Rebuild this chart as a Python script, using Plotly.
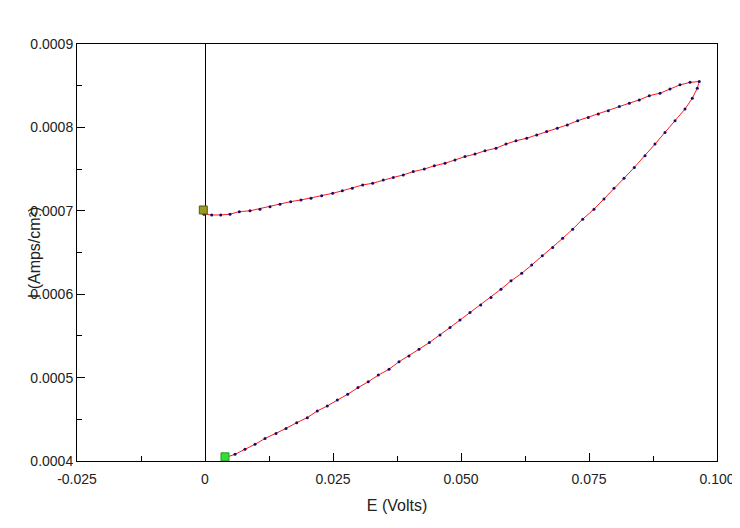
import plotly.graph_objects as go

# forward sweep (lower branch), E in volts, I in A/cm2
e_fwd = [0.00391, 0.00586, 0.00781, 0.00977, 0.01172, 0.01387, 0.01582, 0.01791, 0.01998, 0.02193,
         0.02389, 0.02584, 0.02787, 0.02988, 0.03189, 0.03385, 0.03594, 0.03789, 0.03984, 0.04180,
         0.04381, 0.04590, 0.04785, 0.04980, 0.05176, 0.05385, 0.05586, 0.05781, 0.05977, 0.06186,
         0.06381, 0.06588, 0.06791, 0.06986, 0.07182, 0.07377, 0.07598, 0.07793, 0.07988, 0.08184,
         0.08385, 0.08594, 0.08789, 0.08984, 0.09180, 0.09375, 0.09518, 0.09615, 0.09654]
i_fwd = [0.000404, 0.000408, 0.000414, 0.000420, 0.000427, 0.000433, 0.000439, 0.000446, 0.000452, 0.000460,
         0.000466, 0.000473, 0.000480, 0.000488, 0.000495, 0.000503, 0.000510, 0.000519, 0.000526, 0.000534,
         0.000542, 0.000551, 0.000560, 0.000569, 0.000578, 0.000587, 0.000596, 0.000606, 0.000616, 0.000625,
         0.000635, 0.000646, 0.000656, 0.000667, 0.000678, 0.000690, 0.000702, 0.000714, 0.000727, 0.000739,
         0.000752, 0.000766, 0.000780, 0.000794, 0.000808, 0.000822, 0.000835, 0.000847, 0.000855]

# reverse sweep (upper branch)
e_rev = [0.09473, 0.09277, 0.09082, 0.08887, 0.08678, 0.08482, 0.08287, 0.08092, 0.07877, 0.07682,
         0.07486, 0.07279, 0.07076, 0.06881, 0.06674, 0.06479, 0.06283, 0.06074, 0.05879, 0.05684,
         0.05469, 0.05273, 0.05078, 0.04883, 0.04688, 0.04479, 0.04283, 0.04068, 0.03873, 0.03678,
         0.03482, 0.03275, 0.03080, 0.02877, 0.02682, 0.02494, 0.02279, 0.02070, 0.01875, 0.01674,
         0.01465, 0.01270, 0.01074, 0.00879, 0.00670, 0.00488, 0.00307, 0.00131, -0.00020]
i_rev = [0.000854, 0.000851, 0.000846, 0.000841, 0.000838, 0.000833, 0.000829, 0.000825, 0.000820, 0.000816,
         0.000812, 0.000808, 0.000803, 0.000799, 0.000795, 0.000791, 0.000787, 0.000784, 0.000780, 0.000775,
         0.000772, 0.000768, 0.000765, 0.000761, 0.000757, 0.000754, 0.000750, 0.000747, 0.000743, 0.000740,
         0.000737, 0.000733, 0.000731, 0.000727, 0.000724, 0.000721, 0.000718, 0.000715, 0.000713, 0.000711,
         0.000708, 0.000705, 0.000702, 0.000700, 0.000699, 0.000696, 0.000695, 0.000695, 0.000696]

start_pt = (0.0039, 0.000405)
end_pt = (-0.00033, 0.000701)

x_ticks = [-0.025, 0, 0.025, 0.05, 0.075, 0.1]
x_labels = ["-0.025", "0", "0.025", "0.050", "0.075", "0.100"]
y_ticks = [0.0004, 0.0005, 0.0006, 0.0007, 0.0008, 0.0009]
y_labels = ["0.0004", "0.0005", "0.0006", "0.0007", "0.0008", "0.0009"]

FONT = 'Liberation Sans, Arial'

fig = go.Figure()

fig.add_trace(go.Scatter(x=e_fwd + e_rev, y=i_fwd + i_rev, mode='lines+markers',
                         line=dict(color='#ff1a1a', width=1),
                         marker=dict(color='#1a0a6a', size=3)))

fig.add_trace(go.Scatter(x=[start_pt[0]], y=[start_pt[1]], mode='markers',
                         marker=dict(symbol='square', size=8, color='#33dd33',
                                     line=dict(color='#229922', width=1))))

fig.add_trace(go.Scatter(x=[end_pt[0]], y=[end_pt[1]], mode='markers',
                         marker=dict(symbol='square', size=8, color='#9a9a20',
                                     line=dict(color='#5a5a10', width=1))))

axis_style = dict(showline=True, linecolor='black', linewidth=1, mirror=True,
                  showgrid=False, ticks='inside', ticklen=8, tickcolor='black',
                  automargin=False,
                  tickfont=dict(family=FONT, size=14, color='#222222'))

fig.update_xaxes(range=[-0.025, 0.1], tickvals=x_ticks, ticktext=x_labels,
                 zeroline=True, zerolinecolor='black', zerolinewidth=1,
                 ticklabelstandoff=5,
                 minor=dict(ticks='inside', ticklen=5, dtick=0.0125, tick0=0, tickcolor='black'),
                 title=dict(text='E (Volts)', standoff=14,
                            font=dict(family=FONT, size=16, color='#222222')),
                 **axis_style)
fig.update_yaxes(range=[0.0004, 0.0009], tickvals=y_ticks, ticktext=y_labels,
                 zeroline=False,
                 minor=dict(ticks='inside', ticklen=5, dtick=0.00005, tick0=0.0004, tickcolor='black'),
                 **axis_style)

fig.add_annotation(text='I (Amps/cm²)', textangle=-90, xref='paper', yref='paper',
                   x=-0.066, y=0.5, showarrow=False, xanchor='center', yanchor='middle',
                   font=dict(family=FONT, size=16, color='#222222'))

# page body adds ~8px offset, so margins are shifted to compensate
fig.update_layout(width=740, height=528, showlegend=False,
                  plot_bgcolor='white', paper_bgcolor='white',
                  margin=dict(l=69, r=31, t=36, b=75))

fig.write_html("out.html")
